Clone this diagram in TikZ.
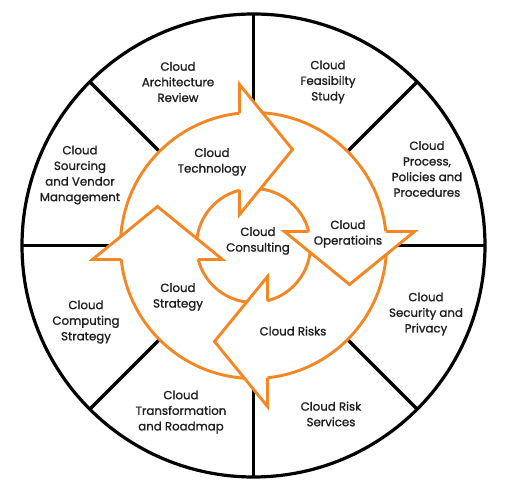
\documentclass[tikz,border=0pt]{standalone}
\usepackage{fontspec}
\setmainfont{Poppins}[UprightFeatures={FakeBold=1.2}]
\definecolor{cloudorange}{RGB}{245,134,36}
\definecolor{cloudtext}{RGB}{30,30,30}
\pgfdeclarelayer{nodelayer}
\pgfdeclarelayer{edgelayer}
\pgfsetlayers{edgelayer,main,nodelayer}
\tikzstyle{none}=[inner sep=0pt, align=center, text=cloudtext, font=\fontsize{11.8}{15.6}\selectfont]
\tikzset{sector/.style={line width=3.2pt, draw=black}}
\tikzset{ring/.style={line width=2.9pt, draw=cloudorange, line join=miter}}

\begin{document}
\begin{tikzpicture}[x=1pt, y=1pt]
        \useasboundingbox (-253.5,-246.5) rectangle (253.5,245.5);
        \begin{pgfonlayer}{nodelayer}
            \node [style=none] (0) at (-75.5, 163.5) {Cloud\\Architecture\\Review};
            \node [style=none] (1) at (74.5, 163.5) {Cloud\\Feasibilty\\Study};
            \node [style=none] (2) at (173.5, 76.5) {Cloud\\Process,\\Policies and\\Procedures};
            \node [style=none] (3) at (172.5, -68.5) {Cloud\\Security and\\Privacy};
            \node [style=none] (4) at (77.5, -168.5) {Cloud Risk\\Services};
            \node [style=none] (5) at (-72.5, -166.5) {Cloud\\Transformation\\and Roadmap};
            \node [style=none] (6) at (-167.5, -76.5) {Cloud\\Computing\\Strategy};
            \node [style=none] (7) at (-173.5, 70.5) {Cloud\\Sourcing\\and Vendor\\Management};
            \node [style=none] (8) at (-41.5, 83.5) {Cloud\\Technology};
            \node [style=none] (9) at (94.5, 11.5) {Cloud\\Operatioins};
            \node [style=none] (10) at (4.5, 4.5) {Cloud\\Consulting};
            \node [style=none] (11) at (-75.5, -51.5) {Cloud\\Strategy};
            \node [style=none] (12) at (39.5, -85.5) {Cloud Risks};
        \end{pgfonlayer}
        \begin{pgfonlayer}{edgelayer}
            \draw [style=sector] (0,0) circle (231.5);
            \foreach \a in {0,45,...,315}
                \draw [style=sector] (\a:133) -- (\a:231.5);
        \end{pgfonlayer}
        \fill [white] (0,0) circle (133);
        \draw [style=ring] (0,0) circle (133) (0,0) circle (57);
        \foreach \k in {0,1,2,3} {
            \begin{scope}[rotate=-90*\k]
                \fill [white] (-14,161) -- (39,96) -- (-14,31) -- cycle;
                \draw [style=ring] (-14,132.3) -- (-14,161) -- (39,96) -- (-14,31) -- (-14,55.25);
            \end{scope}
        }
    \end{tikzpicture}
\end{document}
